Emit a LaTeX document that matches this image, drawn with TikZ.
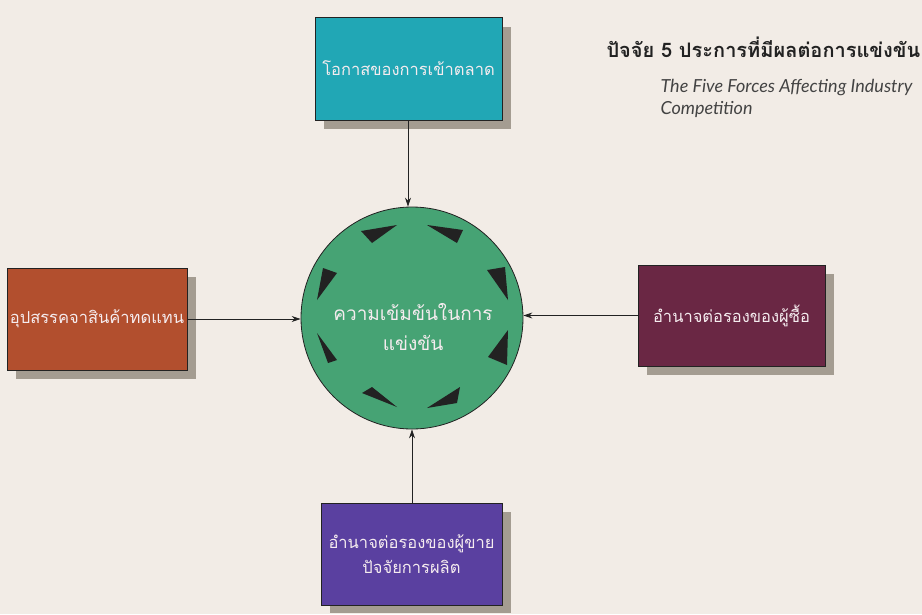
\documentclass[tikz,border=0pt]{standalone}
\usepackage{fontspec}
\usetikzlibrary{arrows.meta}
\newfontfamily\thaifont[Script=Thai]{Loma}
\newfontfamily\latinfont{Lato}
\definecolor{paper}{HTML}{F2ECE6}
\definecolor{cyanbox}{HTML}{21A7B5}
\definecolor{rustbox}{HTML}{B24F2E}
\definecolor{maroonbox}{HTML}{6A2744}
\definecolor{purplebox}{HTML}{5A40A0}
\definecolor{hubgreen}{HTML}{46A374}
\definecolor{shade}{HTML}{8A8275}
\definecolor{boxtext}{HTML}{F5ECEF}
\definecolor{ink}{HTML}{222222}
\tikzset{
  forcebox/.style={draw=ink, line width=0.6pt, minimum width=#1, text=boxtext,
    font=\thaifont\fontsize{16.5}{25}\selectfont, align=center, inner sep=1pt},
  boxshade/.style={fill=shade, opacity=0.75},
  link/.style={draw=ink, line width=0.8pt, -{Stealth[length=9pt,width=6pt]}},
  wedge/.style={fill=ink, draw=none}
}
\begin{document}
\begin{tikzpicture}[x=1pt, y=-1pt]
\fill[paper] (0,0) rectangle (922,614);
\useasboundingbox (0,0) rectangle (922,614);

% drop shadows behind the boxes
\fill[boxshade] (324,27) rectangle (511,129);
\fill[boxshade] (16,277) rectangle (196,379);
\fill[boxshade] (647,274) rectangle (834,375);
\fill[boxshade] (330,512) rectangle (511,613);

% the four outer forces
\node[forcebox=187pt, minimum height=103pt, fill=cyanbox] (entry) at (408.5,68.5) {โอกาสของการเข้าตลาด};
\node[forcebox=180pt, minimum height=102pt, fill=rustbox, inner sep=0pt] (subst) at (97,319) {อุปสรรคจาสินค้าทดแทน};
\node[forcebox=187pt, minimum height=101pt, fill=maroonbox] (buyer) at (731.5,315.5) {อำนาจต่อรองของผู้ซื้อ};
\node[forcebox=181pt, minimum height=102pt, fill=purplebox] (supplier) at (411.5,554) {อำนาจต่อรองของผู้ขาย\\ปัจจัยการผลิต};

% central rivalry circle and its caption
\node[circle, draw=ink, line width=0.8pt, fill=hubgreen, minimum size=222pt, inner sep=0pt] (rivalry) at (412,318) {};
\node[text=boxtext, font=\thaifont\fontsize{19}{30}\selectfont, align=center] (rivalrytext) at (413,327)
  {ความเข้มข้นในการ\\แข่งขัน};

% ring of dark wedges inside the circle
\fill[wedge] (361,231) -- (397,225) -- (372,243) -- cycle;
\fill[wedge] (427,225) -- (463,230) -- (457,243) -- cycle;
\fill[wedge] (487,270) -- (505,267) -- (508,300) -- cycle;
\fill[wedge] (488,357) -- (508,330) -- (507,365) -- cycle;
\fill[wedge] (427,408) -- (460,387) -- (457,403) -- cycle;
\fill[wedge] (362,393) -- (372,387) -- (397,407) -- cycle;
\fill[wedge] (317,333) -- (328,363) -- (337,360) -- cycle;
\fill[wedge] (317,300) -- (323,268) -- (337,273) -- cycle;

% connectors from each force to the centre
\coordinate (entryfoot) at (408,120);
\coordinate (supplierhead) at (412,503);
\draw[link] (entryfoot) -- (rivalry.north -| entryfoot);
\draw[link] (subst.east) -- (rivalry.west |- subst.east);
\draw[link] (buyer.west) -- (rivalry.east |- buyer.west);
\draw[link] (supplierhead) -- (rivalry.south);

% heading
\node[anchor=west, font=\thaifont\bfseries\fontsize{20}{24}\selectfont, text=ink] (title) at (603,47)
  {ปัจจัย 5 ประการที่มีผลต่อการแข่งขัน};
\node[anchor=north west, align=left, font=\latinfont\itshape\fontsize{18}{22}\selectfont, text=ink!85] (subtitle) at (657,76)
  {The Five Forces Affecting Industry\\Competition};
\end{tikzpicture}
\end{document}
